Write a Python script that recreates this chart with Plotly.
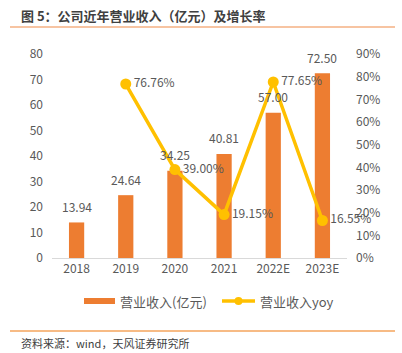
import plotly.graph_objects as go

categories = ["2018", "2019", "2020", "2021", "2022E", "2023E"]
revenue = [13.94, 24.64, 34.25, 40.81, 57.00, 72.50]
yoy = [None, 76.76, 39.00, 19.15, 77.65, 16.55]
revenue_labels = ["13.94", "24.64", "34.25", "40.81", "57.00", "72.50"]
yoy_labels = ["", "76.76%", "39.00%", "19.15%", "77.65%", "16.55%"]
left_ticks = [0, 10, 20, 30, 40, 50, 60, 70, 80]
right_ticks = [0, 10, 20, 30, 40, 50, 60, 70, 80, 90]

FONT = "Noto Sans CJK SC"
GREY = "#595959"
BAR = "#ED7D31"
LINE = "#FFC000"

W, H = 402, 353
L, R, T, B = 52, 55, 54, 95
pw, ph = W - L - R, H - T - B

def px(x):
    return (x - L) / pw

def py(y):
    return (H - B - y) / ph

fig = go.Figure()
fig.add_trace(go.Bar(
    x=categories, y=revenue, name="营业收入(亿元)",
    marker=dict(color=BAR, line=dict(width=0)),
    width=0.31,
    showlegend=False,
))
fig.add_trace(go.Scatter(
    x=categories, y=yoy, name="营业收入yoy", yaxis="y2",
    mode="lines+markers+text",
    line=dict(color=LINE, width=3.5),
    marker=dict(color=LINE, size=11),
    text=yoy_labels, textposition="middle right",
    textfont=dict(family=FONT, size=12, color=GREY),
    cliponaxis=False, showlegend=False, connectgaps=False,
))

shapes = [
    dict(type="line", xref="paper", yref="paper", x0=px(10), x1=px(395), y0=py(27), y1=py(27),
         line=dict(color="#F4B183", width=1.5)),
    dict(type="line", xref="paper", yref="paper", x0=px(10), x1=px(395), y0=py(331), y1=py(331),
         line=dict(color="#F5A45C", width=1.5)),
    # legend symbols
    dict(type="rect", xref="paper", yref="paper", x0=px(84), x1=px(115), y0=py(304), y1=py(298),
         fillcolor=BAR, line=dict(width=0)),
    dict(type="line", xref="paper", yref="paper", x0=px(222), x1=px(255), y0=py(301), y1=py(301),
         line=dict(color=LINE, width=3.5)),
    dict(type="circle", xref="paper", yref="paper", x0=px(234.5), x1=px(242.5), y0=py(305), y1=py(297),
         fillcolor=LINE, line=dict(width=0)),
]

annotations = [
    dict(text="<b>图 5：公司近年营业收入（亿元）及增长率</b>", xref="paper", yref="paper",
         x=px(19), y=py(15), xanchor="left", yanchor="middle", showarrow=False,
         font=dict(family=FONT, size=13, color="#404040")),
    dict(text="营业收入(亿元)", xref="paper", yref="paper", x=px(118), y=py(301),
         xanchor="left", yanchor="middle", showarrow=False,
         font=dict(family=FONT, size=13, color=GREY)),
    dict(text="营业收入yoy", xref="paper", yref="paper", x=px(258), y=py(301),
         xanchor="left", yanchor="middle", showarrow=False,
         font=dict(family=FONT, size=13, color=GREY)),
    dict(text="资料来源：wind，天风证券研究所", xref="paper", yref="paper", x=px(19), y=py(343),
         xanchor="left", yanchor="middle", showarrow=False,
         font=dict(family=FONT, size=11, color="#404040")),
]
for i, (v, t) in enumerate(zip(revenue, revenue_labels)):
    annotations.append(dict(text=t, x=i, y=v, xref="x", yref="y", showarrow=False,
                            xanchor="center", yanchor="middle", yshift=16,
                            font=dict(family=FONT, size=12, color=GREY)))

fig.update_layout(
    width=W, height=H,
    margin=dict(l=L, r=R, t=T, b=B, autoexpand=False),
    paper_bgcolor="white", plot_bgcolor="white",
    font=dict(family=FONT, size=12, color=GREY),
    showlegend=False,
    bargap=0.69,
    xaxis=dict(type="category", categoryorder="array", categoryarray=categories,
               range=[-0.5, len(categories) - 0.5],
               showgrid=False, showline=True, linecolor="#D9D9D9", linewidth=1,
               ticks="", tickfont=dict(size=12, color=GREY), zeroline=False),
    yaxis=dict(range=[0, 80], tickvals=left_ticks, showgrid=False, zeroline=False,
               showline=False, ticks="", tickfont=dict(size=12, color=GREY), ticklabelstandoff=8),
    yaxis2=dict(range=[0, 90], tickvals=right_ticks, ticktext=[f"{v}%" for v in right_ticks],
                overlaying="y", side="right", showgrid=False, zeroline=False,
                showline=False, ticks="", tickfont=dict(size=12, color=GREY), ticklabelstandoff=8),
    shapes=shapes, annotations=annotations,
)

fig.write_html("out.html")
